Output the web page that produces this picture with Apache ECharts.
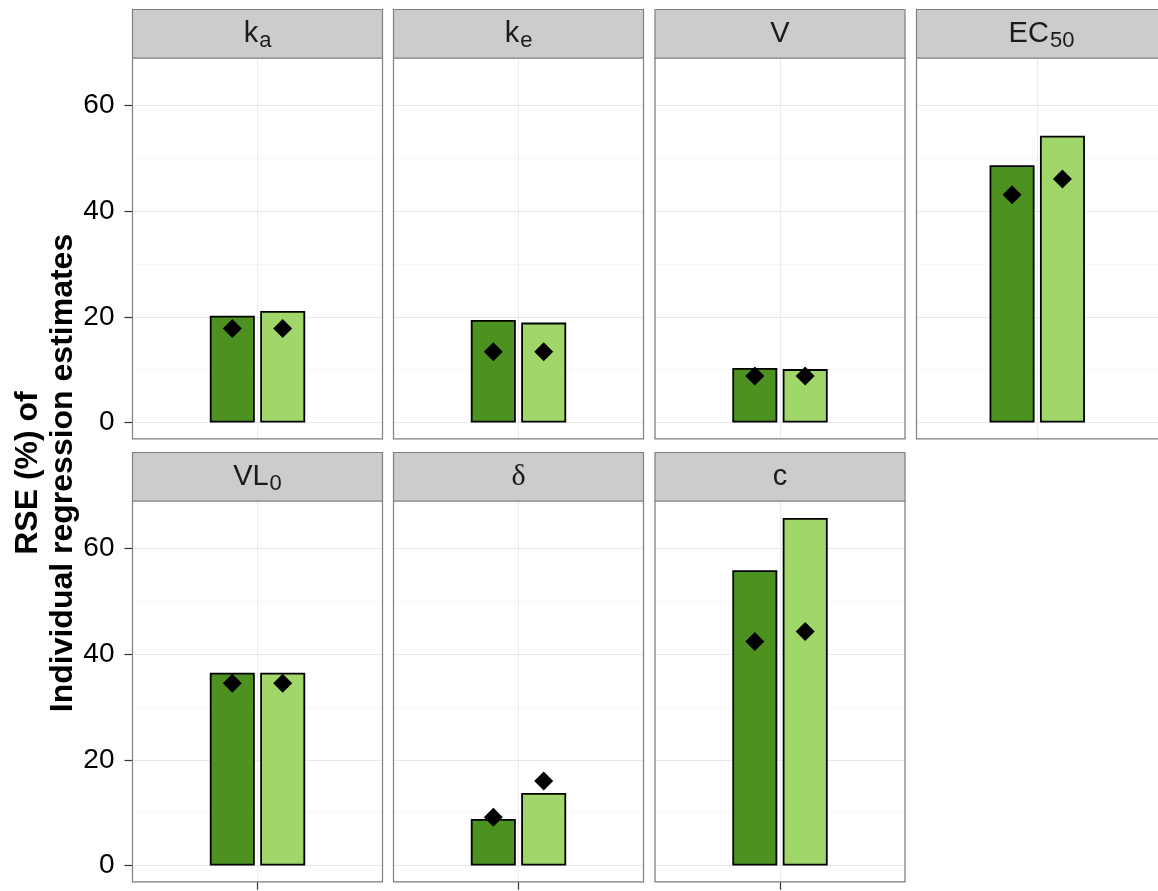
<!DOCTYPE html>
<html>
<head>
<meta charset="utf-8">
<script src="https://cdn.jsdelivr.net/npm/echarts@6/dist/echarts.min.js"></script>
<style>
  html, body { margin: 0; padding: 0; background: #ffffff; }
  #chart { width: 1158px; height: 891px; }
</style>
</head>
<body>
<div id="chart"></div>
<script>
// Model parameters, one facet each
const params = ['ka', 'ke', 'V', 'EC50', 'VL0', 'delta', 'c'];
// Facet strip labels (rich text: m = main, s = subscript, g = Greek)
const stripLabels = ['{m|k}{s|a}', '{m|k}{s|e}', '{m|V}', '{m|EC}{s|50}', '{m|VL}{s|0}', '{g|δ}', '{m|c}'];
// Bar heights: RSE (%) for the two designs
const rseDark  = [20.2, 19.4, 10.3, 48.7, 36.5,  8.8, 55.9];
const rseLight = [21.1, 18.9, 10.1, 54.3, 36.5, 13.7, 65.8];
// Diamond markers: RSE (%) of the individual regression estimates
const estDark  = [17.8, 13.4,  8.8, 43.1, 34.5,  9.1, 42.4];
const estLight = [17.8, 13.4,  8.8, 46.1, 34.5, 16.0, 44.3];
// y-axis tick labels
const yTicks = [0, 20, 40, 60];

const FONT = 'Liberation Sans, Arial, sans-serif';
const colLeft = [132.5, 393.5, 655, 916.5];
const rowTop = [58, 501];
const panelW = 250, panelH = 380.8, stripH = 48.5;
const yMin = -3.1, yMax = 69.0;

const grids = [], xAxes = [], yAxes = [], series = [], graphics = [];

params.forEach(function (p, i) {
  const row = i < 4 ? 0 : 1;
  const col = i < 4 ? i : i - 4;
  const left = colLeft[col], top = rowTop[row];
  const firstCol = col === 0;
  const bottomRow = row === 1;

  grids.push({ left: left, top: top, width: panelW, height: panelH, show: true,
               backgroundColor: '#ffffff', borderWidth: 0 });

  // category axis carrying the bars
  xAxes.push({
    type: 'category', gridIndex: i, data: [p], position: 'bottom',
    axisLine: { show: false, onZero: false },
    axisLabel: { show: false },
    axisTick: { show: bottomRow, alignWithLabel: true, length: 8,
                lineStyle: { color: '#333333', width: 1.2 } },
    splitLine: { show: false }
  });
  // value axis used only for the vertical centre grid line
  xAxes.push({
    type: 'value', gridIndex: i, position: 'top', min: 0, max: 2, interval: 1,
    axisLine: { show: false, onZero: false }, axisLabel: { show: false }, axisTick: { show: false },
    splitLine: { show: true, lineStyle: { color: '#ebebeb', width: 1 } }
  });

  yAxes.push({
    type: 'value', gridIndex: i, min: yMin, max: yMax,
    splitNumber: 4, minInterval: 20, maxInterval: 20,
    axisLine: { show: false, onZero: false },
    axisTick: { show: firstCol, length: 8, customValues: yTicks,
                lineStyle: { color: '#333333', width: 1.2 } },
    axisLabel: { show: firstCol, customValues: yTicks, margin: 18,
                 fontSize: 28, color: '#000000', fontFamily: FONT },
    splitLine: { show: true, lineStyle: { color: '#e8e8e8', width: 1.2 } },
    minorTick: { show: false, splitNumber: 2 },
    minorSplitLine: { show: true, lineStyle: { color: '#f7f7f7', width: 1 } }
  });

  const mk = function (v) {
    return {
      symbol: 'diamond', symbolSize: 19, silent: true, z: 6,
      itemStyle: { color: '#000000' },
      label: { show: false },
      data: [{ coord: [p, v] }]
    };
  };

  series.push({
    type: 'bar', xAxisIndex: 2 * i, yAxisIndex: i,
    data: [rseDark[i]], barWidth: 45, barGap: '12%',
    itemStyle: { color: '#4D9221', borderColor: '#000000', borderWidth: 1.8 },
    markPoint: mk(estDark[i]), silent: true
  });
  series.push({
    type: 'bar', xAxisIndex: 2 * i, yAxisIndex: i,
    data: [rseLight[i]], barWidth: 45, barGap: '12%',
    itemStyle: { color: '#A1D76A', borderColor: '#000000', borderWidth: 1.8 },
    markPoint: mk(estLight[i]), silent: true
  });

  // panel border
  graphics.push({
    type: 'rect', z: 100, silent: true,
    shape: { x: left, y: top, width: panelW, height: panelH },
    style: { fill: null, stroke: '#7f7f7f', lineWidth: 1.2 }
  });
  // facet strip
  graphics.push({
    type: 'rect', z: 100, silent: true,
    shape: { x: left, y: top - stripH, width: panelW, height: stripH },
    style: { fill: '#cccccc', stroke: '#7f7f7f', lineWidth: 1.2 }
  });
  graphics.push({
    type: 'text', z: 101, silent: true,
    x: left + panelW / 2, y: top - stripH / 2,
    style: {
      text: stripLabels[i], align: 'center', verticalAlign: 'middle',
      rich: {
        m: { fontSize: 29, fontFamily: FONT, fill: '#1a1a1a' },
        s: { fontSize: 22, fontFamily: FONT, fill: '#1a1a1a', padding: [15, 0, 0, 1] },
        g: { fontSize: 30, fontFamily: 'Liberation Serif, DejaVu Serif, serif', fill: '#1a1a1a' }
      }
    }
  });
});

// shared y-axis title
graphics.push({
  type: 'text', z: 101, silent: true,
  x: 46, y: 473, rotation: Math.PI / 2,
  style: {
    text: 'RSE (%) of\nIndividual regression estimates',
    align: 'center', verticalAlign: 'middle',
    fontSize: 32, fontWeight: 'bold', fontFamily: FONT, lineHeight: 35, fill: '#000000'
  }
});

const chart = echarts.init(document.getElementById('chart'), null, { renderer: 'canvas' });
chart.setOption({
  animation: false,
  backgroundColor: '#ffffff',
  grid: grids,
  xAxis: xAxes,
  yAxis: yAxes,
  series: series,
  graphic: { elements: graphics }
});
</script>
</body>
</html>
